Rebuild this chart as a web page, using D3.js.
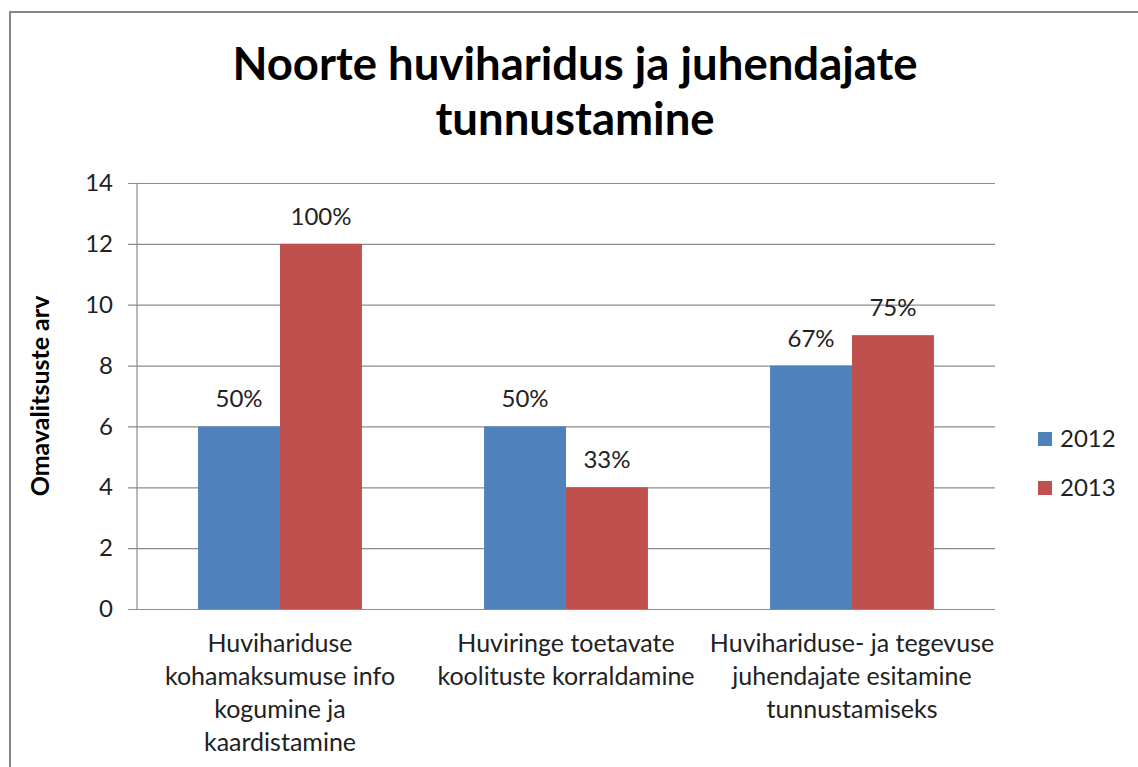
<!DOCTYPE html>
<html>
<head>
<meta charset="utf-8">
<script src="https://cdn.jsdelivr.net/npm/d3@7"></script>
<style>
	body { margin: 0; background: #fff; }
	svg { display: block; font-family: Lato, "Open Sans", sans-serif; }
</style>
</head>
<body>
<svg id="chart" width="1138" height="767"></svg>
<script>
// chart data
let categories = [
	['Huvihariduse', 'kohamaksumuse info', 'kogumine ja', 'kaardistamine'],
	['Huviringe toetavate', 'koolituste korraldamine'],
	['Huvihariduse- ja tegevuse', 'juhendajate esitamine', 'tunnustamiseks']
];
let years = ['2012', '2013'];
let values2012 = [6, 6, 8];
let values2013 = [12, 4, 9];
let labels2012 = ['50%', '50%', '67%'];
let labels2013 = ['100%', '33%', '75%'];
let yTicks = [0, 2, 4, 6, 8, 10, 12, 14];
let titleLines = ['Noorte huviharidus ja juhendajate', 'tunnustamine'];
let yTitle = 'Omavalitsuste arv';

let colors = ['#4f81bd', '#c0504d'];

let svg = d3.select('#chart');

// outer frame (right and bottom edges fall outside the picture)
svg.append('rect')
	.attr('x', 10)
	.attr('y', 12)
	.attr('width', 1160)
	.attr('height', 800)
	.attr('fill', '#fff')
	.attr('stroke', '#868686')
	.attr('stroke-width', 2);

let margin = { top: 183, right: 143, bottom: 158, left: 137 };
let width = 1138 - margin.left - margin.right;
let height = 767 - margin.top - margin.bottom;

let chart = svg.append('g')
	.attr('transform', 'translate(' + margin.left + ', ' + margin.top + ')');

let x = d3.scaleBand()
	.domain(d3.range(categories.length))
	.range([0, width])
	.paddingInner(0.427)
	.paddingOuter(0.2135);

let x1 = d3.scaleBand()
	.domain(years)
	.range([0, x.bandwidth()]);

let y = d3.scaleLinear()
	.domain([0, 14])
	.range([height, 0]);

// gridlines + y ticks
let yAxis = d3.axisLeft(y)
	.tickValues(yTicks)
	.tickSize(-width)
	.tickPadding(24)
	.tickFormat(d3.format('d'));

let yg = chart.append('g')
	.call(yAxis);
yg.select('.domain').remove();
yg.selectAll('.tick line')
	.attr('x1', -9)
	.attr('x2', width)
	.attr('stroke', '#8c8c8c')
	.attr('stroke-width', 1.2);
yg.selectAll('.tick text')
	.style('font-family', 'Lato, sans-serif')
	.style('font-size', '24px')
	.style('fill', '#222');

// vertical axis line
chart.append('line')
	.attr('x1', 0).attr('x2', 0)
	.attr('y1', 0).attr('y2', height)
	.attr('stroke', '#8c8c8c')
	.attr('stroke-width', 1.2);

let series = [values2012, values2013];
let seriesLabels = [labels2012, labels2013];

series.forEach((vals, s) => {
	let groups = chart.append('g');

	groups.selectAll('rect')
		.data(vals)
		.enter()
		.append('rect')
		.attr('x', (d, i) => x(i) + x1(years[s]))
		.attr('y', d => y(d))
		.attr('width', x1.bandwidth())
		.attr('height', d => height - y(d))
		.attr('fill', colors[s]);

	groups.selectAll('text')
		.data(vals)
		.enter()
		.append('text')
		.attr('x', (d, i) => x(i) + x1(years[s]) + x1.bandwidth() / 2)
		.attr('y', d => y(d) - 19)
		.attr('text-anchor', 'middle')
		.style('font-size', '24px')
		.style('fill', '#222')
		.text((d, i) => seriesLabels[s][i]);
});

// category labels
categories.forEach((lines, i) => {
	let t = chart.append('text')
		.attr('text-anchor', 'middle')
		.style('font-size', '25px')
		.style('fill', '#222');
	lines.forEach((line, j) => {
		t.append('tspan')
			.attr('x', x(i) + x.bandwidth() / 2)
			.attr('y', height + 43 + j * 33)
			.text(line);
	});
});

// y axis title
svg.append('text')
	.attr('transform', 'translate(49, 396) rotate(-90)')
	.attr('text-anchor', 'middle')
	.style('font-size', '25px')
	.style('font-weight', 'bold')
	.style('fill', '#000')
	.text(yTitle);

// chart title
let title = svg.append('text')
	.attr('text-anchor', 'middle')
	.style('font-size', '45.5px')
	.style('font-weight', 'bold')
	.style('fill', '#000');
titleLines.forEach((line, j) => {
	title.append('tspan')
		.attr('x', 575)
		.attr('y', 80 + j * 55)
		.text(line);
});

// legend
let legend = svg.append('g')
	.attr('transform', 'translate(1038, 432)');

years.forEach((yr, i) => {
	let row = legend.append('g')
		.attr('transform', 'translate(0, ' + (i * 49) + ')');
	row.append('rect')
		.attr('width', 14)
		.attr('height', 14)
		.attr('fill', colors[i]);
	row.append('text')
		.attr('x', 22)
		.attr('y', 15)
		.style('font-size', '24px')
		.style('fill', '#222')
		.text(yr);
});
</script>
</body>
</html>
